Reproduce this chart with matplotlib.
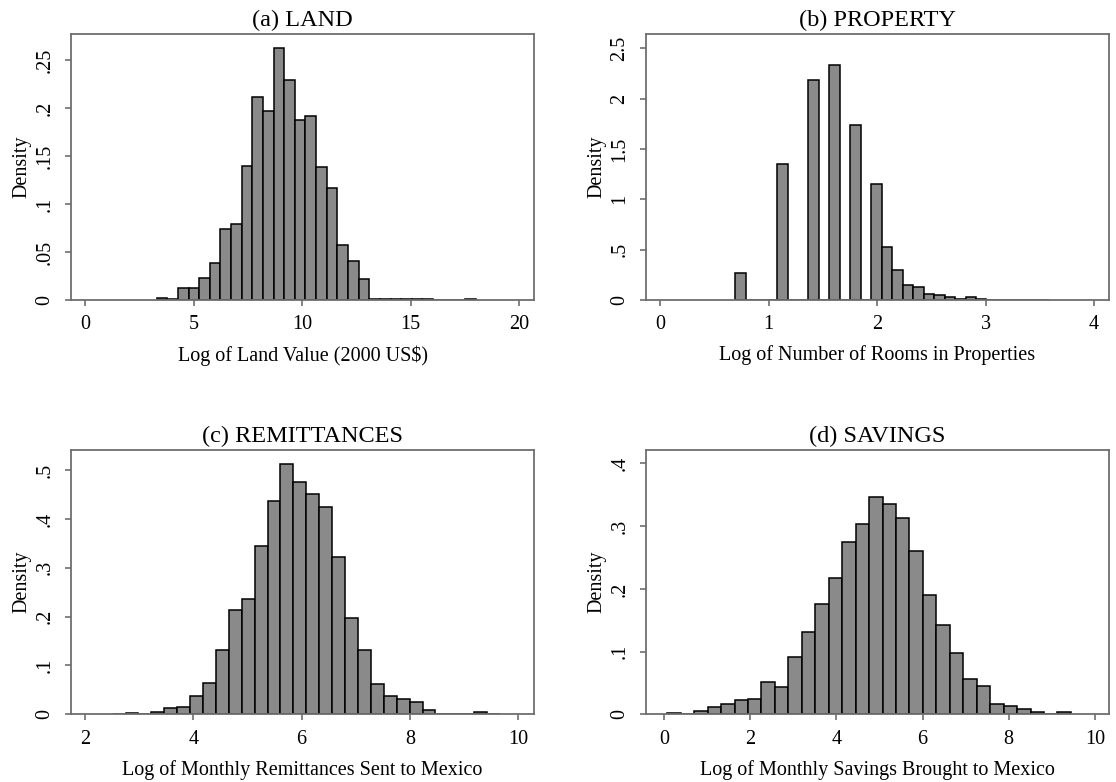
import numpy as np
import matplotlib
matplotlib.use("Agg")
import matplotlib.pyplot as plt
from matplotlib.ticker import FixedLocator, FixedFormatter

plt.rcParams['font.family'] = ['Liberation Serif', 'DejaVu Serif']

# ---------------- data (histogram densities) ----------------
land_start, land_width = 3.30, 0.49
land_density = [0.002, 0.001, 0.013, 0.012, 0.023, 0.039, 0.074, 0.079, 0.140, 0.211,
                0.197, 0.262, 0.229, 0.187, 0.192, 0.139, 0.117, 0.057, 0.041, 0.022,
                0.0015, 0.0006, 0.0006, 0.0006, 0.0006, 0.0006, 0.0, 0.0, 0.0, 0.001]

prop_start, prop_width = 0.693, 0.0965
prop_density = [0.265, 0.0, 0.0, 0.0, 1.348, 0.0, 0.0, 2.182, 0.0, 2.338,
                0.0, 1.742, 0.0, 1.152, 0.523, 0.298, 0.149, 0.132, 0.060, 0.048,
                0.033, 0.010, 0.027, 0.013, 0.002, 0.002, 0.001, 0.001, 0.001, 0.001]

remit_start, remit_width = 2.51, 0.2384
remit_density = [0.001, 0.003, 0.001, 0.005, 0.012, 0.015, 0.038, 0.065, 0.132, 0.214,
                 0.235, 0.344, 0.437, 0.513, 0.475, 0.450, 0.424, 0.321, 0.198, 0.132,
                 0.063, 0.037, 0.032, 0.025, 0.009, 0.0008, 0.0008, 0.0008, 0.005, 0.0008]

sav_start, sav_width = 0.07, 0.3125
sav_density = [0.002, 0.001, 0.006, 0.011, 0.016, 0.023, 0.025, 0.051, 0.043, 0.092,
               0.132, 0.176, 0.217, 0.274, 0.303, 0.346, 0.336, 0.313, 0.260, 0.190,
               0.143, 0.097, 0.057, 0.045, 0.016, 0.014, 0.008, 0.004, 0.001, 0.003]

titles = ["(a) LAND", "(b) PROPERTY", "(c) REMITTANCES", "(d) SAVINGS"]
xlabels = ["Log of Land Value (2000 US$)",
           "Log of Number of Rooms in Properties",
           "Log of Monthly Remittances Sent to Mexico",
           "Log of Monthly Savings Brought to Mexico"]
xticks = [[0, 5, 10, 15, 20], [0, 1, 2, 3, 4], [2, 4, 6, 8, 10], [0, 2, 4, 6, 8, 10]]
yticks = [[0, 0.05, 0.1, 0.15, 0.2, 0.25], [0, 0.5, 1, 1.5, 2, 2.5],
          [0, 0.1, 0.2, 0.3, 0.4, 0.5], [0, 0.1, 0.2, 0.3, 0.4]]
yticklabels = [["0", ".05", ".1", ".15", ".2", ".25"], ["0", ".5", "1", "1.5", "2", "2.5"],
               ["0", ".1", ".2", ".3", ".4", ".5"], ["0", ".1", ".2", ".3", ".4"]]
xlims = [(-0.645, 20.69), (-0.129, 4.138), (1.742, 10.29), (-0.425, 10.33)]
ylims = [(0, 0.277), (0, 2.642), (0, 0.541), (0, 0.4215)]

series = [(land_start, land_width, land_density),
          (prop_start, prop_width, prop_density),
          (remit_start, remit_width, remit_density),
          (sav_start, sav_width, sav_density)]

# ---------------- layout ----------------
W, H = 1116, 782
fig = plt.figure(figsize=(W / 100, H / 100), dpi=100)
fig.patch.set_facecolor('white')

boxes = [(71, 34, 534, 300), (646, 34, 1109, 300),
         (71, 450, 534, 714.3), (646, 450, 1109, 714.3)]

axis_gray = '#6e6e6e'
for i, (x0, y0, x1, y1) in enumerate(boxes):
    ax = fig.add_axes([x0 / W, 1 - y1 / H, (x1 - x0) / W, (y1 - y0) / H])
    start, width, dens = series[i]
    dens = np.asarray(dens)
    lefts = start + width * np.arange(len(dens))
    ax.bar(lefts, dens, width=width, align='edge', color='#8a8a8a',
           edgecolor='black', linewidth=1.1, zorder=2)
    ax.set_xlim(*xlims[i])
    ax.set_ylim(*ylims[i])
    ax.set_xticks(xticks[i])
    ax.set_xticklabels([str(t) for t in xticks[i]])
    ax.yaxis.set_major_locator(FixedLocator(yticks[i]))
    ax.yaxis.set_major_formatter(FixedFormatter(yticklabels[i]))
    for lab in ax.get_yticklabels():
        lab.set_rotation(90)
        lab.set_va('center')
    ax.tick_params(axis='both', direction='out', length=4.5, width=1.2,
                   color=axis_gray, labelsize=14.5, labelcolor='black')
    ax.tick_params(axis='x', pad=6.5)
    ax.tick_params(axis='y', pad=7.5)
    for sp in ax.spines.values():
        sp.set_color(axis_gray)
        sp.set_linewidth(1.3)
    ax.set_title(titles[i], fontsize=17.5, pad=6)
    ax.set_xlabel(xlabels[i], fontsize=14.5, labelpad=8)
    ax.set_ylabel("Density", fontsize=14.5, labelpad=3)

fig.savefig("out.png", dpi=100, facecolor='white')
